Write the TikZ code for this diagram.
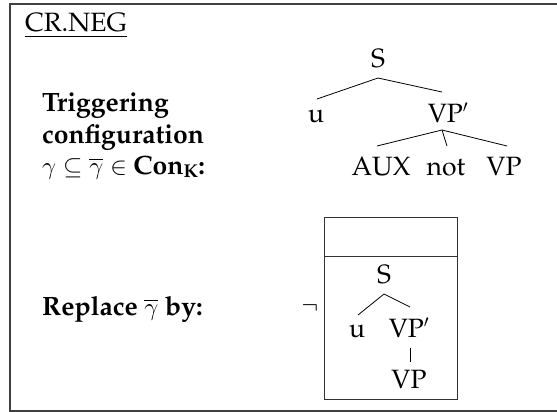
\documentclass[tikz,border=0pt]{standalone}
\usepackage[T1]{fontenc}
\usepackage{amsmath}
\usepackage{palatino}
\usetikzlibrary{calc}
\tikzset{
  txt/.style={inner sep=0pt, anchor=base west, font=\fontsize{26.5}{32}\selectfont},
  lab/.style={inner sep=0pt, anchor=base, font=\fontsize{26.5}{32}\selectfont},
  edge/.style={line width=0.8pt},
  frame/.style={line width=1.3pt, draw=black!75},
  boxline/.style={line width=0.9pt, draw=black!80}
}
\begin{document}
\begin{tikzpicture}[x=1pt,y=1pt]
\useasboundingbox (0,0) rectangle (557,-412);
% outer frame
\draw[frame] (580,-4) -- (10,-4) -- (10,-411) -- (580,-411);
% title
\node[txt] (title) at (25,-32) {\underline{CR.NEG}};
% left labels
\node[txt] (trig) at (42,-111) {\textbf{Triggering}};
\node[txt] (conf) at (42,-143) {\textbf{configuration}};
\node[txt] (cond) at (42,-174) {$\gamma \subseteq \overline{\gamma} \in$ \textbf{Con}$_{\textbf{K}}$\textbf{:}};
\node[txt] (repl) at (42,-315) {\textbf{Replace $\overline{\gamma}$ by:}};
% tree 1
\node[lab] (S1) at (378,-68) {S};
\node[lab] (u1) at (316,-122) {u};
\node[lab] (VPp1) at (448,-122) {VP$'$};
\node[lab] (AUX) at (381,-175) {AUX};
\node[lab] (not) at (446,-175) {not};
\node[lab] (VP1) at (504,-175) {VP};
\draw[edge] ($(S1.base)+(0,-10)$) -- ($(u1.base)+(1,23)$);
\draw[edge] ($(S1.base)+(0,-10)$) -- ($(VPp1.base)+(-6,30)$);
\draw[edge] ($(VPp1.base)+(-6,-8)$) -- ($(AUX.base)+(-4,29)$);
\draw[edge] ($(VPp1.base)+(-6,-8)$) -- ($(not.base)+(1,29)$);
\draw[edge] ($(VPp1.base)+(-6,-8)$) -- ($(VP1.base)+(3,29)$);
% negation and box
\node[inner sep=0pt, font=\fontsize{26.5}{32}\selectfont] (neg) at (310,-308) {$\neg$};
\draw[boxline] (324,-217) rectangle (457,-399);
\draw[boxline] (324,-256) -- (457,-256);
% tree 2
\node[lab] (S2) at (384,-283) {S};
\node[lab] (u2) at (357,-337) {u};
\node[lab] (VPp2) at (409,-337) {VP$'$};
\node[lab] (VP2) at (409,-388) {VP};
\draw[edge] ($(S2.base)+(0,-11)$) -- ($(u2.base)+(1,22)$);
\draw[edge] ($(S2.base)+(0,-11)$) -- ($(VPp2.base)+(1,30)$);
\draw[edge] ($(VPp2.base)+(1,-11)$) -- ($(VP2.base)+(1,26)$);
\end{tikzpicture}
\end{document}
